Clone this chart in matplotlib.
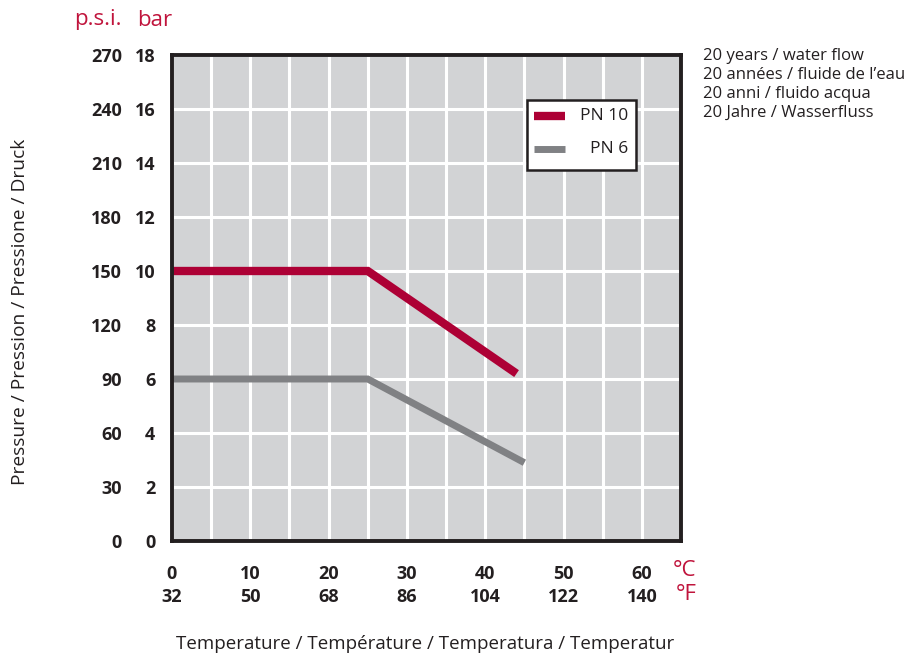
import numpy as np
import matplotlib
matplotlib.use("Agg")
import matplotlib.pyplot as plt
from matplotlib.patches import Rectangle
from matplotlib.lines import Line2D

plt.rcParams['font.family'] = ['Open Sans', 'DejaVu Sans']

# data
temp_c_ticks = [0, 10, 20, 30, 40, 50, 60]
temp_f_ticks = [32, 50, 68, 86, 104, 122, 140]
bar_ticks = [0, 2, 4, 6, 8, 10, 12, 14, 16, 18]
psi_ticks = [0, 30, 60, 90, 120, 150, 180, 210, 240, 270]

pn10_temp = [0, 25, 44]
pn10_bar = [10, 10, 6.2]
pn6_temp = [0, 25, 45]
pn6_bar = [6, 6, 2.9]

notes = ["20 years / water flow", "20 années / fluide de l\u2019eau",
         "20 anni / fluido acqua", "20 Jahre / Wasserfluss"]

RED = "#ad0035"
GREY = "#808184"
LABEL_RED = "#c0143c"
DARK = "#231f20"
BG = "#d2d3d5"

fig = plt.figure(figsize=(9.2, 6.55), dpi=100)
ax = fig.add_axes([172 / 920, 1 - 541 / 655, 509 / 920, 486 / 655])
ax.set_facecolor(BG)
ax.set_xlim(0, 65)
ax.set_ylim(0, 18)

# white grid every 5 degC / 2 bar, labels only every 10 degC
grid_x = np.arange(0, 65, 5)
xlabels = {c: f"{c}\n{f}" for c, f in zip(temp_c_ticks, temp_f_ticks)}
ax.set_xticks(grid_x)
ax.set_xticklabels([xlabels.get(int(x), "") for x in grid_x],
                   fontsize=13, fontweight='bold', color=DARK, linespacing=1.35)
ax.set_yticks(bar_ticks)
ax.set_yticklabels([str(b) for b in bar_ticks], fontsize=13, fontweight='bold', color=DARK)
ax.grid(True, color='white', lw=2.2)
ax.set_axisbelow(True)
ax.tick_params(which='both', length=0)
ax.tick_params(axis='y', pad=12)
ax.tick_params(axis='x', pad=17)

ax.plot(pn10_temp, pn10_bar, color=RED, lw=6, solid_capstyle='butt',
        solid_joinstyle='miter', label="PN 10")
ax.plot(pn6_temp, pn6_bar, color=GREY, lw=5, solid_capstyle='butt',
        solid_joinstyle='miter', label="PN 6")

for s in ax.spines.values():
    s.set_color(DARK)
    s.set_linewidth(2.8)
    s.set_zorder(5)

# psi axis
sec = ax.secondary_yaxis(-0.098, functions=(lambda b: b * 15, lambda p: p / 15))
sec.set_yticks(psi_ticks)
sec.set_yticklabels([str(p) for p in psi_ticks], fontsize=13, fontweight='bold', color=DARK)
sec.tick_params(length=0, pad=0)
sec.spines['left'].set_visible(False)

fig.text(98 / 920, 1 - 20 / 655, "p.s.i.", ha='center', va='center', fontsize=16, color=LABEL_RED)
fig.text(155 / 920, 1 - 20 / 655, "bar", ha='center', va='center', fontsize=16, color=LABEL_RED)
fig.text(685 / 920, 1 - 571 / 655, "\u00b0C", ha='center', va='center', fontsize=16, color=LABEL_RED)
fig.text(686 / 920, 1 - 595 / 655, "\u00b0F", ha='center', va='center', fontsize=16, color=LABEL_RED)

fig.text(425 / 920, 1 - 644 / 655, "Temperature / Température / Temperatura / Temperatur",
         ha='center', va='center', fontsize=13.5, color=DARK)
fig.text(20 / 920, 1 - 312 / 655, "Pressure / Pression / Pressione / Druck",
         ha='center', va='center', rotation=90, fontsize=13.8, color=DARK)

for i, line in enumerate(notes):
    fig.text(703 / 920, 1 - (56 + i * 19) / 655, line, ha='left', va='center',
             fontsize=12, color=DARK)

# legend box drawn by hand so the labels can be right aligned
tr = ax.transAxes
ax.add_patch(Rectangle((0.6975, 0.763), 0.214, 0.144, transform=tr, facecolor='white',
                       edgecolor=DARK, lw=1.8, zorder=6))
for color, lw, y, label in [(RED, 6, 0.8745, "PN 10"), (GREY, 5, 0.8066, "PN 6")]:
    ax.add_line(Line2D([0.712, 0.773], [y, y], transform=tr, color=color, lw=lw,
                       solid_capstyle='butt', zorder=7))
    ax.text(0.896, y, label, transform=tr, ha='right', va='center', fontsize=12.5,
            color=DARK, zorder=7)

fig.savefig("out.png", dpi=100)
